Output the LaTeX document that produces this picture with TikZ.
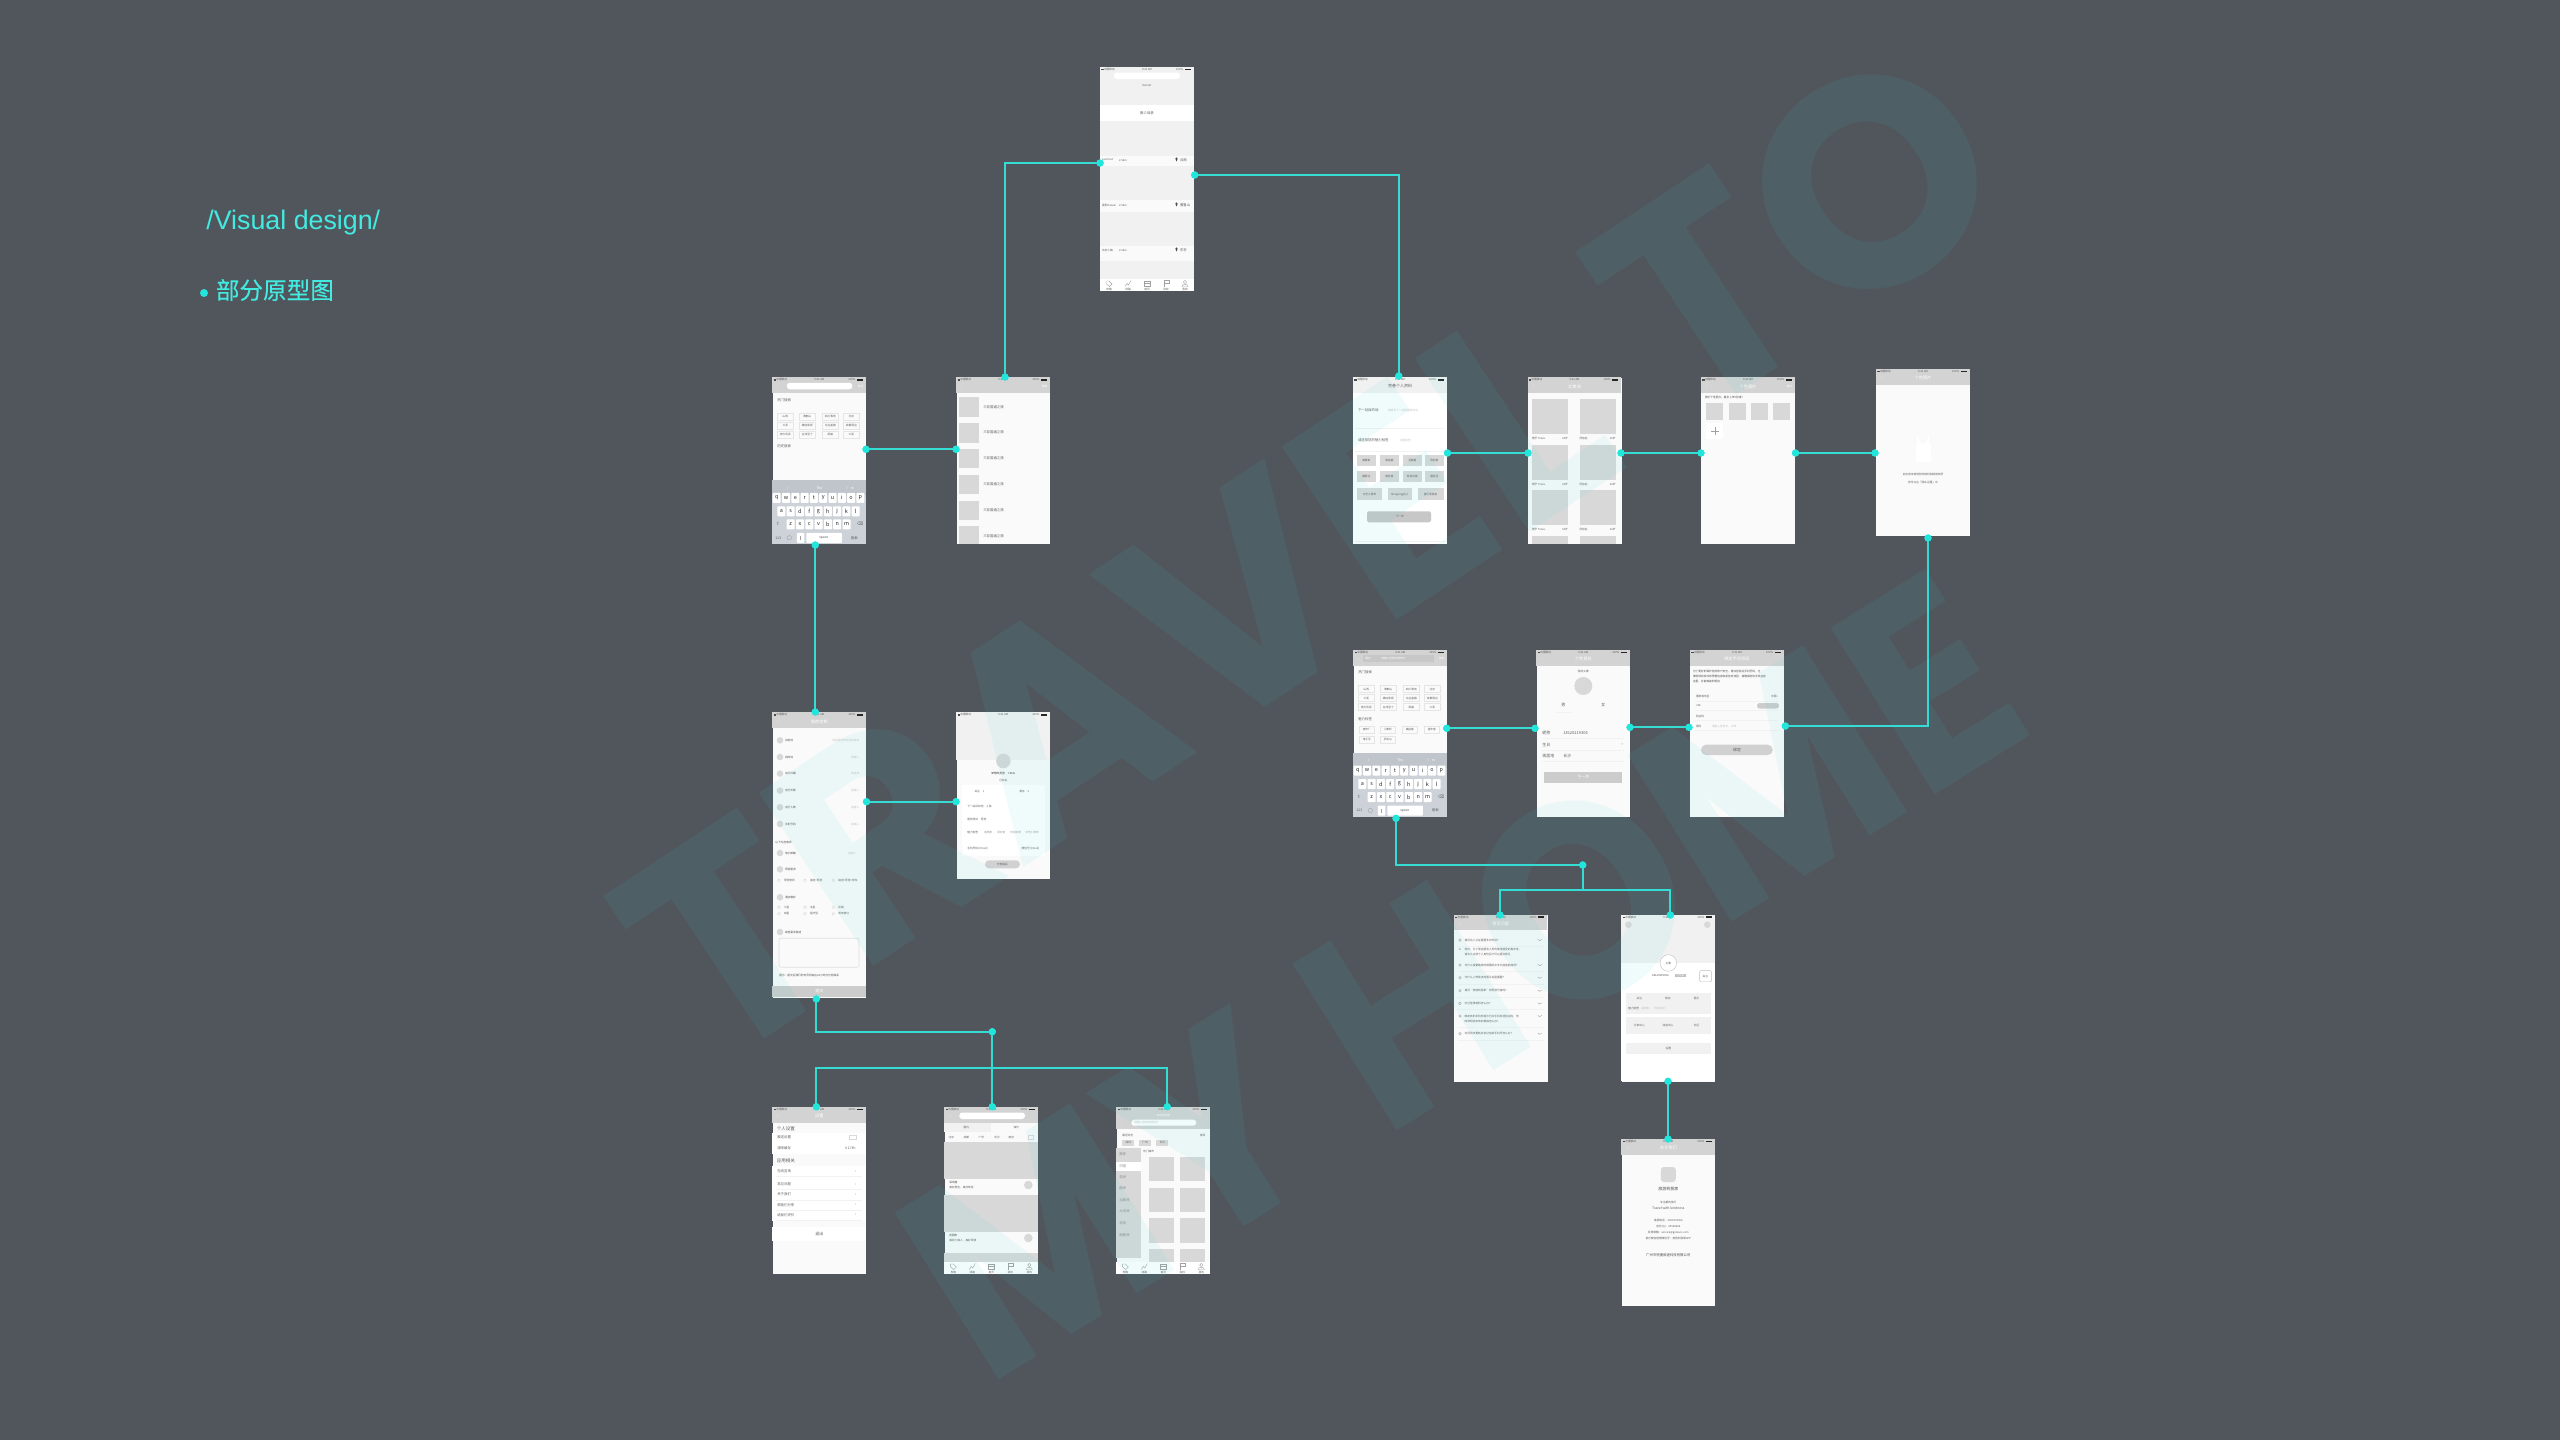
\documentclass[tikz,border=0pt]{standalone}
\usepackage{fontspec}
\setmainfont{Noto Sans CJK SC}
\newfontfamily\headfont{Liberation Sans}
\newfontfamily\subfont[FakeBold=0.25]{Noto Sans CJK SC}
\newfontfamily\wmfont{Poppins}
\newfontfamily\wmfontb[FakeStretch=0.93]{Poppins}
\newfontfamily\symfont{DejaVu Sans}
\definecolor{bgc}{HTML}{51565D}
\definecolor{cyanl}{HTML}{34DCD4}
\definecolor{cyand}{HTML}{22E6DC}
\definecolor{wmc}{HTML}{2FD8D0}
\definecolor{scr}{HTML}{FAFAFA}
\definecolor{hd}{HTML}{D3D3D3}
\definecolor{lg}{HTML}{F1F1F1}
\definecolor{tile}{HTML}{D8D8D8}
\definecolor{kb}{HTML}{CDD2D9}
\definecolor{kb2}{HTML}{C0C5CC}
\definecolor{tx}{HTML}{5E5E5E}
\definecolor{tl}{HTML}{C4C4C4}
\newcounter{lbl}
\tikzset{
  screen/.style={fill=scr,draw=none,inner sep=0,anchor=north west},
  lab/.style={inner sep=0,outer sep=0,text=tx,font=\fontsize{1.7}{2}\selectfont},
  big/.style={font=\fontsize{2.25}{2.6}\selectfont},
  mid/.style={font=\fontsize{2}{2.4}\selectfont},
  keyc/.style={font=\fontsize{2.7}{3}\selectfont},
  sm/.style={font=\fontsize{1.35}{1.6}\selectfont},
  ttl/.style={font=\fontsize{2.1}{2.4}\selectfont,text=white},
  link/.style={draw=cyanl,line width=1pt},
  dot/.style={circle,fill=cyand,draw=none,inner sep=0,minimum size=3.6pt},
  ico/.style={draw=#1,line width=.2pt,fill=none},
  ico/.default={A0A0A0},
  rowline/.style={draw=EAEAEA,line width=.2pt},
  radio/.style={draw=D0D0D0,line width=.15pt,fill=none},
  wmark/.style={inner sep=0,text=wmc,text opacity=.07}
}
\colorlet{A0A0A0}{black!37}
\colorlet{EAEAEA}{black!5}
\colorlet{D0D0D0}{black!18}
\newcommand\T[4][]{\stepcounter{lbl}\node[lab,#1] (lbl\arabic{lbl}) at ({#2},{#3}) {#4};}
\newcommand\TW[4][]{\T[anchor=west,#1]{#2}{#3}{#4}}
\newcommand\TE[4][]{\T[anchor=east,#1]{#2}{#3}{#4}}
\newcommand\R[5][tile]{\fill[#1] ({#2},{#3}) rectangle ({#4},{#5});}
\newcommand\stat{%
  \fill[black!70] (1.2,3.3) rectangle (3.6,1.8);
  \TW[sm,text=black!65]{4}{2.5}{中国移动}
  \T[sm,text=black!65]{47}{2.5}{9:41 AM}
  \TE[sm,text=black!65]{83}{2.5}{100\%}
  \fill[black!85] (84.5,1.6) rectangle (90.5,3.4);}
\newcommand\hdrb{\R[hd]{0}{0}{93.5}{15.5}\stat\TW[ttl]{5}{9.3}{‹}}
\newcommand\hdr[1]{\hdrb\T[ttl]{47}{9.3}{#1}}
\newcommand\phone[6]{%
  \node[screen,minimum width=#4*0.5pt,minimum height=#5*0.5pt] (#1) at (#2,#3) {};
  \begin{scope}[shift={(#2,#3)}]#6\end{scope}}
\newcommand\K[3]{\fill[white,rounded corners=.4pt] ({#1-4},{#2-5}) rectangle ({#1+4},{#2+5});\T[keyc,text=black!85]{#1}{#2}{#3}}
\newcommand\kbd{%
  \R[kb]{0}{103}{93.5}{167}\R[kb2]{0}{103}{93.5}{118}
  \T[text=white]{15}{110.5}{I}\T[text=white]{47}{110.5}{The}\T[text=white]{78}{110.5}{I'm}
  \foreach \ch [count=\i from 0] in {q,w,e,r,t,y,u,i,o,p}{\K{4.4+9.3*\i}{120.5}{\ch}}
  \foreach \ch [count=\i from 0] in {a,s,d,f,g,h,j,k,l}{\K{9+9.3*\i}{134}{\ch}}
  \foreach \ch [count=\i from 0] in {z,x,c,v,b,n,m}{\K{18.4+9.3*\i}{147}{\ch}}
  \T[font=\symfont\fontsize{2.2}{2.4}\selectfont]{5.5}{147}{⇧}\T[font=\symfont\fontsize{2.2}{2.4}\selectfont]{88}{147}{⌫}
  \T{6}{160.5}{123}\draw[ico] (17,160.5) circle[radius=2.2];
  \fill[white,rounded corners=.4pt] (24.5,155.5) rectangle (32,165.5);\draw[ico] (28.2,158.5) -- (28.2,162.5);
  \fill[white,rounded corners=.4pt] (34,155.5) rectangle (69.5,165.5);\T{51.5}{160.5}{space}
  \T{82}{160.5}{搜索}}
\newcommand\tg[3]{\draw[draw=black!10,line width=.15pt] ({#1-7.7},{#2-3.5}) rectangle ({#1+7.7},{#2+3.5});\T[sm]{#1}{#2}{#3}}
\newcommand\tagsA{%
  \tg{13}{39}{山西}\tg{35}{39}{黄鹤山}\tg{58}{39}{四川等地}\tg{79}{39}{北京}
  \tg{13}{48}{三亚}\tg{35}{48}{横店影视}\tg{58}{48}{乌拉盖镇}\tg{79}{48}{成都周边}
  \tg{13}{57}{澳大利亚}\tg{35}{57}{台湾垦丁}\tg{58}{57}{雨崩}\tg{79}{57}{三亚}}
\newcommand\tabbar[1]{%
  \R[white]{0}{#1}{93.5}{#1+12}
  \begin{scope}[shift={(9,#1+4.5)}]\draw[ico] (-3,-2.5) -- (0,-2.5) -- (3,.5) -- (.5,3) -- (-3,0) -- cycle;\T[sm]{0}{6}{攻略}\end{scope}
  \begin{scope}[shift={(28,#1+4.5)}]\draw[ico] (-3,3) -- (-1,0) -- (.5,1.5) -- (3,-3);\T[sm]{0}{6}{线路}\end{scope}
  \begin{scope}[shift={(47,#1+4.5)}]\draw[ico] (-2.7,-2.7) rectangle (2.7,3);\draw[ico] (-2.7,0) -- (2.7,0);\T[sm]{0}{6}{首页}\end{scope}
  \begin{scope}[shift={(66,#1+4.5)}]\draw[ico] (-2,3) -- (-2,-3) -- (3,-3) -- (3,0) -- (-2,0);\T[sm]{0}{6}{目标}\end{scope}
  \begin{scope}[shift={(85,#1+4.5)}]\draw[ico] (0,-1.5) circle[radius=1.6];\draw[ico] (-3,3) .. controls (-3,0) and (3,0) .. (3,3) -- cycle;\T[sm]{0}{6}{我的}\end{scope}}
\newcommand\pin[1]{\fill[black!70] (76.5,#1) circle[radius=1.2];\fill[black!70] (75.5,{#1+.6}) -- (77.5,{#1+.6}) -- (76.5,{#1+3}) -- cycle;}
\begin{document}
\begin{tikzpicture}[x=0.5pt,y=-0.5pt]
\useasboundingbox (0,0) rectangle (2560,1440);
\fill[bgc] (0,0) rectangle (2560,1440);
% ---------- top home
\phone{home}{1100}{67}{94}{224}{%
  \R[lg]{0}{0}{94}{38}\stat
  \fill[white,rounded corners=1.5pt] (14,5.5) rectangle (80,12);
  \T[sm]{47}{18}{banner}
  \R[white]{0}{38}{94}{54}\T{47}{46}{推介目录}
  \R[lg]{0}{54}{94}{89}\R[lg]{0}{99}{94}{133}\R[lg]{0}{145}{94}{179}\R[lg]{0}{194}{94}{212}
  \TW[sm]{2}{93}{Lanrtout}\TW[sm]{19}{93}{2.5km}\pin{91.5}\TW{80}{93}{云南}
  \TW[sm]{2}{138}{夏季Hawaii}\TW[sm]{19}{138}{2.5km}\pin{136.5}\TW{80}{138}{雅鲁山}
  \TW[sm]{2}{183}{东京小镇}\TW[sm]{19}{183}{2.5km}\pin{181.5}\TW{80}{183}{东京}
  \tabbar{212}}
% ---------- search
\phone{search}{772.3}{377.3}{93.5}{166.7}{%
  \hdrb\fill[white,rounded corners=1.5pt] (14.5,5.5) rectangle (80,12);\TE[sm,text=white]{91}{9}{取消}
  \TW{5}{22.5}{热门搜索}\tagsA\TW{5}{69}{历史搜索}\kbd}
% ---------- list
\phone{list}{956.3}{377.3}{93.7}{166.7}{%
  \hdrb\TE[sm,text=white]{91}{9}{搜索}
  \foreach \k in {0,1,2,3,4}{\R{3}{20+25.8*\k}{23}{39.5+25.8*\k}\TW{27}{29.5+25.8*\k}{三亚国通之旅}}
  \R{3}{149}{23}{166.7}\TW{27}{159}{三亚国通之旅}}
% ---------- profile
\phone{profile}{1353}{377.3}{94}{166.7}{%
  \R[lg]{0}{0}{94}{15.5}\stat\T[mid]{47}{9}{完善个人资料}
  \R[white]{0}{15.5}{94}{166.7}
  \TW{5}{32.7}{下一站目的地}\TW[text=tl,sm]{35}{32.7}{请填写下一站旅游目的地}
  \draw[rowline] (2,51) -- (92,51);
  \TW{5}{63}{请选择您的魅力标签}\TW[text=tl,sm]{47}{63}{选择标签}
  \draw[rowline] (2,74) -- (92,74);
  \R{3.7}{78}{23}{89}\T[sm]{13.3}{83.5}{美食家}\R{27}{78}{46}{89}\T[sm]{36.5}{83.5}{旅拍客}
  \R{50}{78}{68.6}{89}\T[sm]{59.3}{83.5}{互联客}\R{72}{78}{90.6}{89}\T[sm]{81.3}{83.5}{背包客}
  \R{3.7}{93.7}{23}{105}\T[sm]{13.3}{99.3}{摄影达}\R{27}{93.7}{46}{105}\T[sm]{36.5}{99.3}{爱好者}
  \R{50}{93.7}{68.6}{105}\T[sm]{59.3}{99.3}{时尚玩家}\R{72}{93.7}{90.6}{105}\T[sm]{81.3}{99.3}{慢生活}
  \R{3.7}{111}{29.4}{122.7}\T[sm]{16.5}{117}{文艺小青年}\R{34.7}{111}{59}{122.7}\T[sm]{46.8}{117}{Shopping达人}
  \R{64.5}{111}{90.6}{122.7}\T[sm]{77.5}{117}{音乐发烧友}
  \fill[black!22,rounded corners=.8pt] (14,134) rectangle (78,145);\T[sm]{47}{139.5}{下一步}
  \draw[rowline] (2,164) -- (92,164);}
% ---------- grid
\phone{grid}{1527.5}{377.3}{93.7}{166.7}{%
  \hdr{北美洲}
  \foreach \y in {21.7,67.7,113}{\R{4.5}{\y}{40.4}{\y+35}\R{52}{\y}{88}{\y+35}
    \TW[sm]{4.5}{\y+39.5}{赠予 Travis}\TE[sm]{40.4}{\y+39.5}{34岁}\TW[sm]{52}{\y+39.5}{阿伯伯}\TE[sm]{88}{\y+39.5}{26岁}}
  \R{4.5}{159}{40.4}{166.7}\R{52}{159}{88}{166.7}}
% ---------- upload
\phone{upload}{1701}{377.3}{93.7}{166.7}{%
  \hdr{个性图片}\TE[sm,text=white]{91}{9}{保存}
  \TW[sm,text=black!70]{4}{20}{展示个性图片，最多上传7张哦！}
  \R{5.3}{25.7}{22.4}{42.3}\R{27.7}{25.7}{45}{42.3}\R{50}{25.7}{67.3}{42.3}\R{72}{25.7}{89.4}{42.3}
  \R[white]{5.3}{45.7}{22.4}{62}\draw[ico] (9.5,53.8) -- (18,53.8) (13.8,49.5) -- (13.8,58);}
% ---------- lock
\phone{lock}{1876}{369}{94}{166.7}{%
  \hdr{个性图片}
  \fill[white] (39.5,76) rectangle (54.5,92.7);
  \draw[white,line width=1.2pt] (42,76) -- (42,71) arc[start angle=180,end angle=0,radius=5] -- (52,76);
  \T[sm]{47}{105}{此应用未使用您的相机和相册权限}
  \T[sm]{47}{113}{您可以在「隐私设置」中}}
% ---------- search 2
\phone{searchb}{1353.3}{650}{93.7}{166.7}{%
  \hdrb\R[black!22]{10}{4.5}{81}{12}\TW[sm,text=white]{12}{8.5}{国内}\TW[sm,text=white]{28}{8.5}{请输入您想去的地方}\TE[sm,text=white]{91}{8.5}{搜索}
  \TW{5}{22.5}{热门搜索}\tagsA
  \TW{5}{69.5}{魅力标签}
  \tg{13.5}{79.7}{夜市厂}\tg{34.5}{79.7}{人像析}\tg{56.5}{79.7}{美拍客}\tg{78.5}{79.7}{徒步者}
  \tg{13.5}{89.7}{电子手}\tg{34.5}{89.7}{驴友山}
  \kbd}
% ---------- info
\phone{info}{1536.3}{650}{93.5}{166.7}{%
  \hdr{个性资料}\T[sm]{47}{21}{我的头像}
  \fill[tile] (47,36) circle[radius=9];
  \T[mid]{27}{55}{男}\T[mid]{67}{55}{女}\draw[rowline] (20,62) -- (37,62);
  \TW[mid]{6}{83}{昵称}\TW[mid]{27}{83}{18120219306}\draw[rowline] (6,88.5) -- (88,88.5);
  \TW[mid]{6}{95}{生日}\TE[mid]{87}{95}{›}\draw[rowline] (6,100) -- (88,100);
  \TW[mid]{6}{106}{现居地}\TW[mid]{27}{106}{长沙}\draw[rowline] (6,111.5) -- (88,111.5);
  \R[black!20]{7.7}{121.7}{85.7}{132.7}\T[text=white,mid]{47}{127.2}{下一步}}
% ---------- bind
\phone{bind}{1690}{650}{93.7}{166.7}{%
  \hdr{绑定手机号码}
  \TW[sm,text=black!70]{3}{21.7}{为了更好的保护您的账户安全，建议您验证手机号码，方}
  \TW[sm,text=black!70]{3}{26.7}{便您得到及时的预警信息和紧急时找回，请确保您的手机在您}
  \TW[sm,text=black!70]{3}{31.7}{这里，并能够接到短信}
  \TW[sm]{6}{46.7}{国家或地区}\TE[sm]{88}{46.7}{中国 ›}\draw[rowline] (5,51) -- (88,51);
  \TW[sm]{6}{56}{+86}\fill[black!20,rounded corners=1.3pt] (67,53) rectangle (89,58.5);\draw[rowline] (5,60.5) -- (88,60.5);
  \TW[sm]{6}{66}{验证码}\draw[rowline] (5,70.5) -- (88,70.5);
  \TW[sm]{6}{76}{密码}\TW[sm,text=tl]{22}{76}{请输入登录字，字母}\draw[rowline] (5,80.5) -- (88,80.5);
  \fill[black!18,rounded corners=2.5pt] (11,94.7) rectangle (82.7,105);\T[mid]{47}{100}{绑定}}
% ---------- custom form
\phone{custom}{772.3}{712.3}{93.5}{285}{%
  \hdr{我的定制}
  \foreach \y/\a/\b in {28/出发地/请选择您想出发的城市,44.7/目的地/请输入,61.3/出行日期/请选择,78.3/出行天数/请输入,95/出行人数/请输入,111.7/手机号码/请输入}{%
    \fill[tile] (7.7,\y) circle[radius=3.3];\TW[sm,text=black!70]{12.7}{\y}{\a}\TE[sm,text=tl]{87}{\y}{\b}}
  \TW[sm,text=black!70]{3}{129.7}{以下为选填项}
  \fill[tile] (7.7,140.7) circle[radius=3.3];\TW[sm,text=black!70]{12.7}{140.7}{电子邮箱}\TE[sm,text=tl]{84}{140.7}{请输入}
  \fill[tile] (7.7,157) circle[radius=3.3];\TW[sm,text=black!70]{12.7}{157}{导游需求}
  \foreach \x/\a in {6.7/导游陪同,32.7/接送+导游,61/接送+导游+用车}{\draw[radio] (\x,168) circle[radius=1.4];\TW[sm]{\x+5}{168}{\a}}
  \fill[tile] (7.7,185) circle[radius=3.3];\TW[sm,text=black!70]{12.7}{185}{酒店偏好}
  \foreach \x/\a/\b in {6.7/三星/四星,32.7/五星/经济型,61/民宿/青年旅社}{\draw[radio] (\x,195) circle[radius=1.4];\TW[sm]{\x+5}{195}{\a}\draw[radio] (\x,201.5) circle[radius=1.4];\TW[sm]{\x+5}{201.5}{\b}}
  \fill[tile] (7.7,219.7) circle[radius=3.3];\TW[sm,text=black!70]{12.7}{219.7}{其他需求描述}
  \draw[black!12,line width=.35pt,rounded corners=1pt] (6.7,226) rectangle (86.7,255);
  \TW[sm,text=black!70]{7}{263}{提示：提交后我们的专员将会在24小时内与您联系}
  \R[black!20]{0}{273.7}{93.5}{285}\T[text=white,mid]{47}{279}{提交}}
% ---------- detail
\phone{detail}{956.3}{712.3}{93.7}{166.7}{%
  \R[lg]{0}{0}{93.7}{48}\stat
  \fill[tile] (47,48.7) circle[radius=7.3];
  \T[sm,text=black!80]{47}{61}{梦想的贤游\quad 7.9km}\T[sm]{47}{68}{已实名}
  \R[white]{5.3}{72.7}{88.7}{144}
  \T[sm]{23}{79.3}{关注\quad 1}\T[sm]{68}{79.3}{粉丝\quad 2}
  \TW[sm]{11}{93.7}{下一站目的地\quad 上海}
  \TW[sm]{11}{106.7}{服务项目\quad 导游}
  \TW[sm]{11}{120}{魅力标签}\TW[sm,text=black!40]{28}{120}{美食家}\TW[sm,text=black!40]{41}{120}{爱好者}\TW[sm,text=black!40]{54}{120}{时尚玩家}\TW[sm,text=black!40]{69}{120}{文艺小青年}
  \TW[sm]{11}{136}{手机号码 [Email]}\TE[sm]{83}{136}{微信号 [Email]}
  \fill[black!18,rounded corners=2pt] (28.7,148) rectangle (63.7,156);\T[sm]{46}{152}{与他联系}}
% ---------- settings
\phone{settings}{772.3}{1107}{93.5}{167}{%
  \hdr{设置}
  \T[anchor=west,big]{4.5}{21.3}{个人设置}
  \R[white]{0}{26}{93.5}{47}\TW{5}{30.3}{推送设置}\draw[ico=black!15] (77,28.5) rectangle (84,32);
  \TW{5}{41.3}{清除缓存}\TE{84}{41.3}{0.17M ›}
  \T[anchor=west,big]{4.5}{53.7}{应用相关}
  \R[white]{0}{58.5}{93.5}{114}
  \foreach \y/\a in {64.3/在线咨询,77.3/常见问题,87.7/关于我们,98/帮我们分享,108/给我们评价}{\TW{5}{\y}{\a}\TE{84}{\y}{›}\draw[rowline] (4,\y+5) -- (90,\y+5);}
  \R[white]{0}{120}{93.5}{134}\T[mid]{47}{126.7}{退出}}
% ---------- home 2
\phone{homeb}{944.3}{1107}{93.5}{167}{%
  \hdrb\fill[white,rounded corners=1.5pt] (15,5.5) rectangle (80.7,12);
  \R[lg]{0}{15.5}{47}{25}\T[sm]{22}{20}{国内}\T[sm]{72}{20}{海外}
  \foreach \x/\a in {7/北京,22/成都,37/广州,52.7/长沙,67/南京}{\T[sm]{\x}{30.3}{\a}}
  \draw[ico=black!15] (83.5,28.5) rectangle (88.5,32);
  \R{0}{35}{93.5}{72}\R{0}{88}{93.5}{124.7}\R{0}{145.7}{93.5}{155}
  \TW[sm,text=black!75]{5}{75.7}{深圳港}\TW[sm]{5}{80}{美好景色，美好体验}\fill[tile] (84,78) circle[radius=4.3];
  \TW[sm,text=black!75]{5}{128.7}{花园市}\TW[sm]{5}{133}{美好小镇人，美好风情}\fill[tile] (84,131) circle[radius=4.3];
  \tabbar{155}}
% ---------- destination
\phone{dest}{1116.3}{1107}{93.7}{167}{%
  \R[hd]{0}{0}{93.7}{22}\stat\T[sm,text=white]{47}{8.3}{目的地搜索}
  \TW[ttl]{5}{15.5}{‹}\fill[white,rounded corners=1.5pt] (15,12.7) rectangle (80,18.7);\TW[sm,text=tl]{18}{15.7}{请输入您想去的地方}
  \TW[sm]{6}{28}{最近浏览}\TE[sm]{89}{28}{清除}
  \R{6}{32.7}{18}{38.7}\T[sm]{12}{35.7}{深圳}\R{23}{32.7}{34.5}{38.7}\T[sm]{28.7}{35.7}{广州}\R{40}{32.7}{52}{38.7}\T[sm]{46}{35.7}{长沙}
  \R{0}{40.7}{24.3}{151}\R[white]{0}{54.7}{24.3}{63.7}
  \foreach \y/\a in {47/推荐,59/中国,70.3/亚洲,81.3/欧洲,92.7/北美洲,104.3/大洋洲,116/非洲,127.7/南美洲}{\TW[text=black!45]{3}{\y}{\a}}
  \TW[sm]{27}{44}{热门城市}
  \foreach \y in {49.7,80.7,111.3}{\R{33}{\y}{57.3}{\y+24.3}\R{64}{\y}{88.3}{\y+24.3}}
  \R{33}{142}{57.3}{155}\R{64}{142}{88.3}{155}
  \tabbar{155}}
% ---------- FAQ
\phone{faq}{1453.7}{914.7}{93.6}{166.7}{%
  \hdr{常见问题}
  \foreach \y/\a in {25.3/请问达人认证需要多长时间？,50.3/为什么搜索路线时候图的文字只能选前两项？,63/为什么上传景点的图片总是提醒？,76/请问“旅游到我家”的导游可接吗？,88.7/忘记登录密码怎么办？,119/访问同步更新应该记住新手机号怎么办？}{%
    \draw[ico] (6.2,\y) circle[radius=1.3];\TW[sm]{11}{\y}{\a}\draw[ico] (84,{\y-.6}) -- (86,{\y+.6}) -- (88,{\y-.6});\draw[rowline] (4,\y+6) -- (90,\y+6);}
  \T[text=black!70,sm]{6.2}{35}{A}
  \TW[sm]{11}{35}{您好，为了保证服务人员的使用感受的真实性，}\TW[sm]{11}{39.7}{请先认证您个人身份后才可以提交意见}
  \draw[ico] (6.2,101.3) circle[radius=1.3];\TW[sm]{11}{101.3}{绑定新的手机时提示已对手机发送验证码，但}\TW[sm]{11}{106.3}{收到短信本地的报错怎么办？}\draw[ico] (84,100.7) -- (86,101.9) -- (88,100.7);\draw[rowline] (4,112.5) -- (90,112.5);}
% ---------- me
\phone{me}{1621.3}{914.7}{93.7}{166.7}{%
  \R[white]{0}{0}{93.7}{166.7}\R[lg]{0}{0}{93.7}{48.7}\stat
  \fill[tile] (7,10) circle[radius=3.3];\fill[tile] (86,10) circle[radius=3.3];
  \filldraw[fill=white,draw=black!25,line width=.2pt] (47,48.3) circle[radius=8.3];\T[sm]{47}{48.3}{头像}
  \T[sm,text=black!70]{39}{60.7}{18120219306}\R[black!25]{53.5}{59}{65}{62.5}\T[sm,text=white]{59.2}{60.7}{已实名}
  \draw[black!25,line width=.2pt,rounded corners=.8pt] (78,55.7) rectangle (90.3,67);\T[sm]{84}{61.3}{关注}
  \R[lg]{4.3}{78.7}{89.3}{99.3}\T[sm]{18}{83.7}{关注}\T[sm]{46.7}{83.7}{粉丝}\T[sm]{75.3}{83.7}{圈子}
  \TW[sm]{7}{94}{魅力标签}\TW[sm,text=tl]{20}{94}{美食家}\TW[sm,text=tl]{33}{94}{时尚玩家}
  \R[lg]{4.3}{102}{89.3}{119.7}\T[sm]{18}{111}{订单中心}\T[sm]{46.7}{111}{消息中心}\T[sm]{75.3}{111}{社区}
  \R[lg]{4.3}{128}{89.3}{139}\T[sm]{47}{133.7}{设置}}
% ---------- about
\phone{about}{1621.3}{1139}{93.7}{167}{%
  \hdr{关于我们}
  \fill[tile,rounded corners=1.5pt] (39.5,28) rectangle (54.5,43);
  \T[mid,text=black!70]{47}{49.7}{旅游到我家}
  \T[sm]{47}{63.7}{专注都的旅行}\T{47}{69}{Travel with kindness}
  \T[sm]{47}{81.7}{客服电话：4006703006}\T[sm]{47}{87.3}{官方QQ：29149606}
  \T[sm]{47}{93.3}{反馈邮箱：service@gotours.com}\T[sm]{47}{99}{官方微信搜索微信号：旅游到我家APP}
  \T[text=black!70]{47}{116.3}{广州市悦捷阅途科技有限公司}}
% ---------- watermark
\node[wmark,rotate=33.5,font=\wmfont\bfseries\fontsize{148}{148}\selectfont] (wmA) at (1311,552) {TRAVEL TO};
\node[wmark,rotate=32,font=\wmfontb\bfseries\fontsize{140}{140}\selectfont] (wmB) at (1461,975) {MY HOME};
% ---------- dots
\foreach \n/\x/\y in {a1/1100/163,a2/1005/377,a3/1194.7/175,a4/1398.8/376,
  b1/866/449.3,b2/956/449.3,b3/815.3/545,b4/815.3/712,
  c1/866.5/801.7,c2/956/801.7,c3/816.3/999,c4/992.3/1031.7,c5/816.3/1106.7,c6/992.3/1106.7,c7/1167.3/1106.7,
  d1/1447.5/453,d2/1528/453,d3/1621/453,d4/1701/453,d5/1795.5/453,d6/1875/453,d7/1928/538,
  e1/1446.7/728.3,e2/1535/728.3,e3/1630/727.3,e4/1689/727.3,e5/1785.3/726,
  f1/1396/818.3,f2/1582.7/865,f3/1500/915,f4/1670.3/915,f5/1668/1081.3,f6/1668/1139}
  {\node[dot] (\n) at (\x,\y) {};}
\coordinate (j1) at (992.3,1067.7);
\coordinate (j2) at (1582.7,889.7);
% ---------- connectors
\draw[link] (a1.center) -| (a2.center);
\draw[link] (a3.center) -| (a4.center);
\draw[link] (b1.center) -- (b2.center);
\draw[link] (b3.center) -- (b4.center);
\draw[link] (c1.center) -- (c2.center);
\draw[link] (c3.center) |- (c4.center);
\draw[link] (c4.center) -- (c6.center);
\draw[link] (c5.center) |- (j1) -| (c7.center);
\draw[link] (d1.center) -- (d2.center);
\draw[link] (d3.center) -- (d4.center);
\draw[link] (d5.center) -- (d6.center);
\draw[link] (e1.center) -- (e2.center);
\draw[link] (e3.center) -- (e4.center);
\draw[link] (e5.center) -| (d7.center);
\draw[link] (f1.center) |- (f2.center);
\draw[link] (f2.center) -- (j2);
\draw[link] (f3.center) |- (j2) -| (f4.center);
\draw[link] (f5.center) -- (f6.center);
\foreach \n in {a1,a2,a3,a4,b1,b2,b3,b4,c1,c2,c3,c4,c5,c6,c7,d1,d2,d3,d4,d5,d6,d7,e1,e2,e3,e4,e5,f1,f2,f3,f4,f5,f6}{\fill[cyand] (\n) circle[radius=3.6];}
% ---------- title
\node[anchor=base west,inner sep=0,text=cyand!85!white,font=\headfont\fontsize{13.4}{16}\selectfont] (head) at (206,229) {/Visual design/};
\node[circle,fill=cyand,inner sep=0,minimum size=4pt] (bullet) at (204,293) {};
\node[anchor=west,inner sep=0,text=cyand!85!white,font=\subfont\fontsize{11.8}{14}\selectfont] (sub) at (215.5,290) {部分原型图};
\end{tikzpicture}
\end{document}
